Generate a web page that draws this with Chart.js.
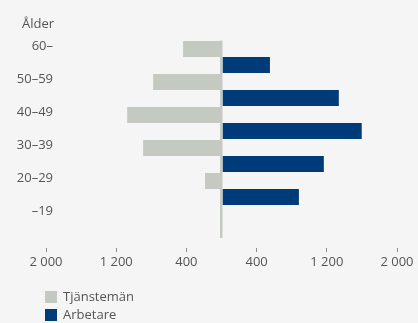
<!DOCTYPE html>
<html>
<head>
<meta charset="utf-8">
<script src="https://cdn.jsdelivr.net/npm/chart.js@4"></script>
<style>
    html, body { margin: 0; padding: 0; background: #f5f5f5; }
    #age-chart-content { width: 418px; height: 323px; }
</style>
</head>
<body>
<div id="age-chart-content">
    <canvas id="age-chart" width="418" height="323"></canvas>
</div>
<script>
    var ageGroups = ['60–', '50–59', '40–49', '30–39', '20–29', '–19'];
    var tjanstemanCount = [438, 779, 1075, 893, 188, 0];
    var arbetareCount = [552, 1337, 1598, 1166, 882, 0];
    var xTicks = [-2000, -1200, -400, 0, 400, 1200, 2000];

    var grey = '#c4c9c1';
    var blue = '#003b79';
    var textColor = '#555555';
    var font = {family: "'Open Sans', sans-serif", size: 13};

    // legend is stacked vertically at bottom left, easier to draw it ourselves
    var stackedLegend = {
        id: 'stackedLegend',
        afterDraw: function (chart) {
            var ctx = chart.ctx;
            ctx.save();
            ctx.font = '13px ' + font.family;
            ctx.textBaseline = 'middle';
            ctx.textAlign = 'left';
            chart.data.datasets.forEach(function (ds, i) {
                var y = 297 + i * 18;
                ctx.fillStyle = ds.backgroundColor;
                ctx.fillRect(45, y - 6, 12, 12);
                ctx.fillStyle = textColor;
                ctx.fillText(ds.label, 63, y);
            });
            ctx.restore();
        }
    };

    var config = {
        type: 'bar',
        data: {
            labels: ageGroups,
            datasets: [
                {
                    label: 'Tjänstemän',
                    backgroundColor: grey,
                    data: tjanstemanCount.map(function (v) { return -v; }),
                },
                {
                    label: 'Arbetare',
                    backgroundColor: blue,
                    data: arbetareCount,
                },
            ]
        },
        options: {
            indexAxis: 'y',
            responsive: false,
            animation: false,
            categoryPercentage: 0.97,
            barPercentage: 1,
            layout: {
                padding: {left: 22, right: 21, top: 0, bottom: 51}
            },
            plugins: {
                legend: {display: false},
                tooltip: {enabled: false},
                title: {
                    display: true,
                    text: 'Ålder',
                    align: 'start',
                    color: textColor,
                    font: {family: font.family, size: 13, weight: 'normal'},
                    padding: {top: 16, bottom: 9}
                }
            },
            scales: {
                x: {
                    min: -2000,
                    max: 2000,
                    afterBuildTicks: function (scale) {
                        scale.ticks = xTicks.map(function (v) { return {value: v}; });
                    },
                    border: {display: false},
                    grid: {
                        color: function (c) { return c.tick && c.tick.value === 0 ? grey : 'transparent'; },
                        lineWidth: function (c) { return c.tick && c.tick.value === 0 ? 2.5 : 1; },
                        tickColor: function (c) { return c.tick && c.tick.value === 0 ? 'transparent' : '#8c8c8c'; },
                        tickLength: 14,
                        tickBorderDash: [0, 10, 4, 100],
                    },
                    ticks: {
                        autoSkip: false,
                        maxRotation: 0,
                        padding: 2,
                        color: textColor,
                        font: font,
                        callback: function (value) {
                            if (value === 0) return '';
                            var s = String(Math.abs(value));
                            return s.length > 3 ? s.slice(0, -3) + ' ' + s.slice(-3) : s;
                        }
                    }
                },
                y: {
                    afterFit: function (scale) {
                        scale.width = 24;
                        // labels reach into the plot area, so don't clip them to the axis box
                        scale._computeLabelArea = function () { return undefined; };
                    },
                    border: {display: false},
                    grid: {display: false, drawTicks: false},
                    ticks: {
                        padding: -7,
                        labelOffset: -11,
                        color: textColor,
                        font: font
                    }
                }
            }
        },
        plugins: [stackedLegend]
    };

    var ctx = document.getElementById('age-chart').getContext('2d');
    window.ageChart = new Chart(ctx, config);
</script>
</body>
</html>
